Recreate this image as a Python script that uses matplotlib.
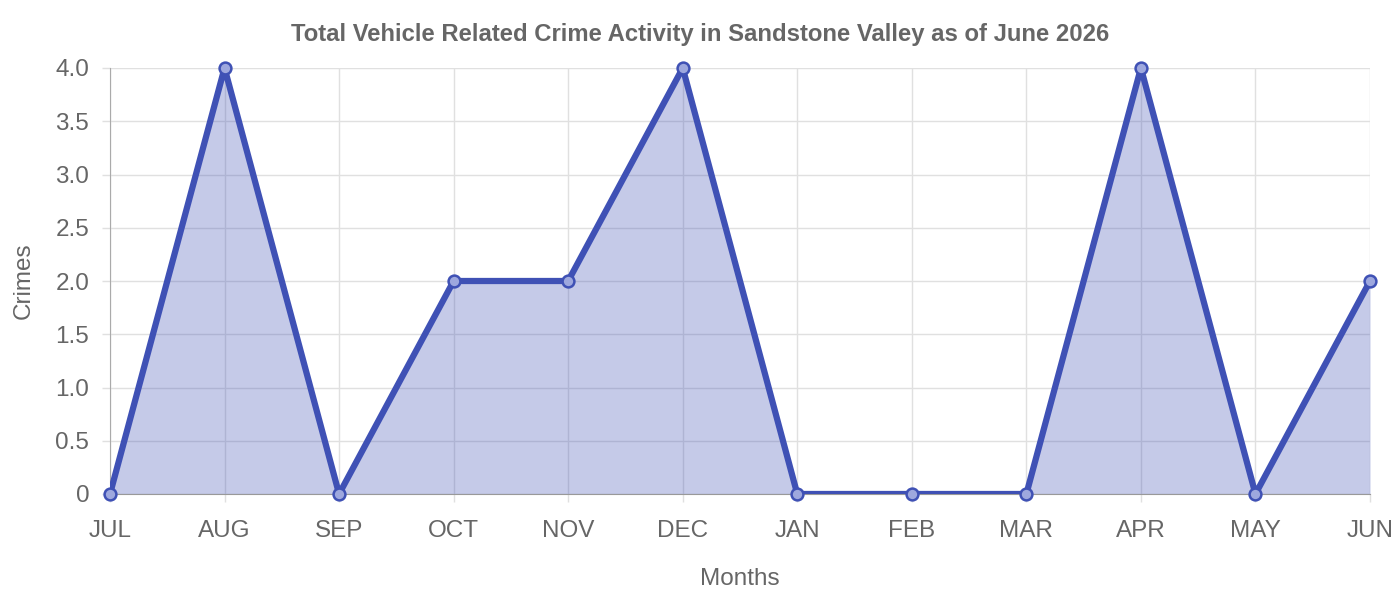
import matplotlib
matplotlib.use("Agg")
import matplotlib.pyplot as plt

months = ["JUL", "AUG", "SEP", "OCT", "NOV", "DEC", "JAN", "FEB", "MAR", "APR", "MAY", "JUN"]
crimes = [0, 4, 0, 2, 2, 4, 0, 0, 0, 4, 0, 2]
yticks = [0, 0.5, 1.0, 1.5, 2.0, 2.5, 3.0, 3.5, 4.0]
ytick_labels = ["0", "0.5", "1.0", "1.5", "2.0", "2.5", "3.0", "3.5", "4.0"]

plt.rcParams['font.family'] = ['Liberation Sans', 'DejaVu Sans']
TXT = "#666666"
LINE = "#3f51b5"

fig = plt.figure(figsize=(14, 6), dpi=100)
ax = fig.add_axes([110/1400, 1 - 494/600, 1260/1400, 426/600])

x = list(range(len(months)))
ax.fill_between(x, crimes, 0, color=LINE, alpha=0.3, linewidth=0, zorder=2)
ax.plot(x, crimes, color=LINE, linewidth=4.5, zorder=3, solid_joinstyle='miter')
ax.plot(x, crimes, linestyle='none', marker='o', markersize=8.5,
        markerfacecolor=(0.62, 0.66, 0.87), markeredgecolor=LINE, markeredgewidth=1.8, zorder=4,
        clip_on=False)

ax.set_xlim(0, len(months) - 1)
ax.set_ylim(0, 4.0)
ax.set_xticks(x)
ax.set_xticklabels(months)
ax.set_yticks(yticks)
ax.set_yticklabels(ytick_labels)

ax.grid(True, color="#e0e0e0", linewidth=1, zorder=1)
ax.set_axisbelow(True)
for s in ["top", "right"]:
    ax.spines[s].set_visible(False)
ax.spines["left"].set_color("#aaaaaa")
ax.spines["bottom"].set_color("#999999")
ax.spines["bottom"].set_zorder(2.5)
ax.tick_params(axis='both', colors="#e0e0e0", labelcolor=TXT, labelsize=17.5, length=6, width=1)
ax.tick_params(axis='x', pad=12.5)
ax.tick_params(axis='y', pad=9)

ax.set_xlabel("Months", fontsize=17.5, color=TXT, labelpad=19)
ax.set_ylabel("Crimes", fontsize=17.5, color=TXT, labelpad=15)
fig.text(0.5, 1 - 34/600, "Total Vehicle Related Crime Activity in Sandstone Valley as of June 2026",
         ha='center', va='center', fontsize=17.2, fontweight='bold', color=TXT)

fig.savefig("out.png", dpi=100)
